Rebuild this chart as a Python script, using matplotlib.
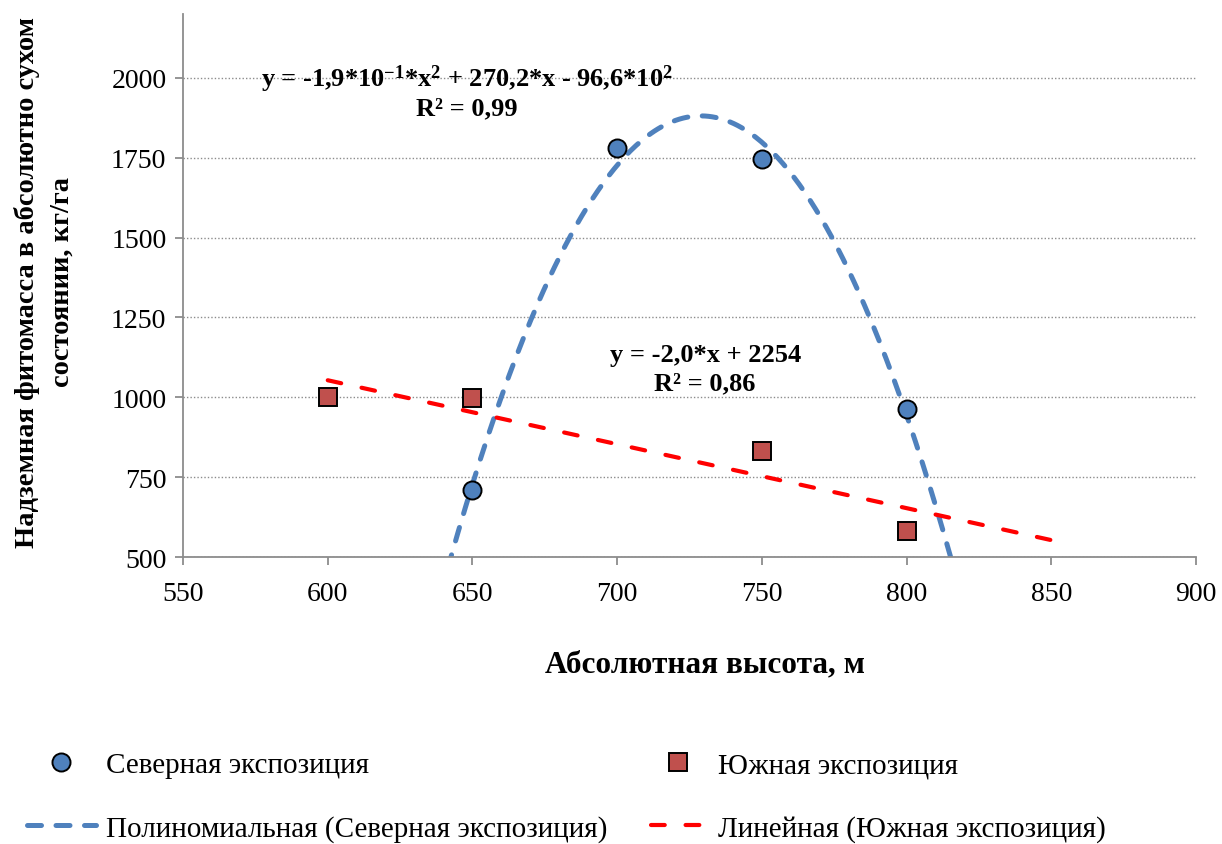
import matplotlib
matplotlib.use("Agg")
import matplotlib.pyplot as plt
from matplotlib.lines import Line2D
import numpy as np

plt.rcParams['font.family'] = ['Liberation Serif', 'DejaVu Serif']
plt.rcParams['mathtext.default'] = 'regular'

# высота над уровнем моря, м и фитомасса, кг/га
north_x = np.array([650, 700, 750, 800])
north_y = np.array([710, 1780, 1745, 962])
south_x = np.array([600, 650, 750, 800])
south_y = np.array([1000, 998, 833, 582])

x_ticks = [550, 600, 650, 700, 750, 800, 850, 900]
y_ticks = [500, 750, 1000, 1250, 1500, 1750, 2000]

blue = "#4F81BD"
red_mark = "#C0504D"
red_line = "#FF0000"
grid_c = "#8C8C8C"

blue_ls = dict(color=blue, lw=3.6, ls=(0, (2.8, 2.9)), dash_capstyle='round')
red_ls = dict(color=red_line, lw=3.0, ls=(0, (3.3, 5.0)), dash_capstyle='round')
north_mk = dict(ls='none', marker='o', ms=13, mfc=blue, mec='black', mew=1.4)
south_mk = dict(ls='none', marker='s', ms=12.5, mfc=red_mark, mec='black', mew=1.4)

fig = plt.figure(figsize=(12.22, 8.45), dpi=100)
ax = fig.add_axes([0.1498, 0.3396, 0.8289, 0.6426])

# линии трендов
p2 = np.polyfit(north_x, north_y, 2)
xx = np.linspace(600, 850, 400)
ax.plot(xx, np.polyval(p2, xx), zorder=2, **blue_ls)
p1 = np.polyfit(south_x, south_y, 1)
xl = np.array([600, 850])
ax.plot(xl, np.polyval(p1, xl), zorder=2, **red_ls)

ax.plot(north_x, north_y, zorder=3, **north_mk)
ax.plot(south_x, south_y, zorder=3, **south_mk)

ax.set_xlim(550, 900)
ax.set_ylim(500, 2200)
ax.set_xticks(x_ticks)
ax.set_yticks(y_ticks)
ax.yaxis.grid(True, ls=(0, (1, 1.5)), color=grid_c, lw=1)
ax.set_axisbelow(True)
for s in ['top', 'right']:
    ax.spines[s].set_visible(False)
for s in ['left', 'bottom']:
    ax.spines[s].set_color(grid_c)
    ax.spines[s].set_linewidth(1.3)
ax.tick_params(axis='both', colors=grid_c, labelcolor='black', labelsize=20,
               length=6, width=1.3, direction='out')
ax.tick_params(axis='x', pad=11)
ax.tick_params(axis='y', pad=6)

fig.text(0.577, 0.213, "Абсолютная высота, м", fontsize=22.5, fontweight='bold',
         ha='center', va='center')
fig.text(0.0365, 0.666, "Надземная фитомасса в абсолютно сухом\nсостоянии, кг/га",
         fontsize=20.5, fontweight='bold', rotation=90, ha='center', va='center',
         multialignment='center', linespacing=1.5)

ax.text(648, 2000, "y = -1,9*10$^{-1}$*x$^{2}$ + 270,2*x - 96,6*10$^{2}$",
        ha='center', va='center', fontsize=19, fontweight='bold')
ax.text(648, 1906, "R² = 0,99", ha='center', va='center', fontsize=19, fontweight='bold')
ax.text(730.4, 1134, "y = -2,0*x + 2254", ha='center', va='center', fontsize=19,
        fontweight='bold')
ax.text(730.4, 1044, "R² = 0,86", ha='center', va='center', fontsize=19,
        fontweight='bold')

leg_kw = dict(loc='upper left', frameon=False, fontsize=21, borderpad=0,
              borderaxespad=0, labelspacing=1.25)
fig.legend([Line2D([], [], **north_mk), Line2D([], [], **blue_ls)],
           ["Северная экспозиция", "Полиномиальная (Северная экспозиция)"],
           bbox_to_anchor=(27 / 1222, 1 - 753 / 845), handlelength=2.35,
           handletextpad=0.35, **leg_kw)
fig.legend([Line2D([], [], **south_mk), Line2D([], [], **red_ls)],
           ["Южная экспозиция", "Линейная (Южная экспозиция)"],
           bbox_to_anchor=(651 / 1222, 1 - 753 / 845), handlelength=1.85,
           handletextpad=0.45, **leg_kw)

fig.savefig("out.png", dpi=100)
